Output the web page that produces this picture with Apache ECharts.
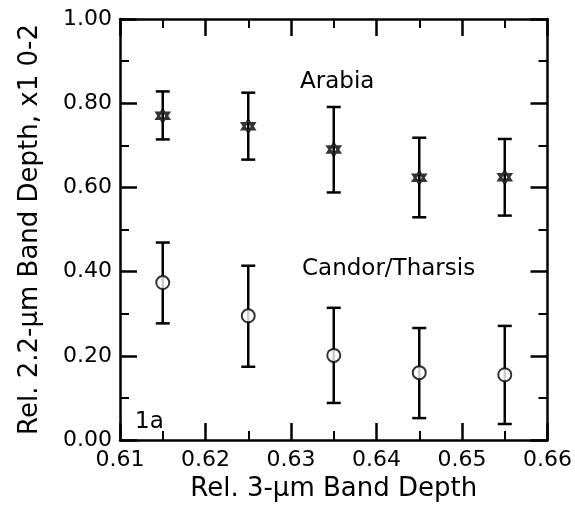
<!DOCTYPE html>
<html>
<head>
<meta charset="utf-8">
<script src="https://cdn.jsdelivr.net/npm/echarts@6/dist/echarts.min.js"></script>
<style>html,body{margin:0;padding:0;background:#fff}#c{width:575px;height:520px}</style>
</head>
<body>
<div id="c"></div>
<script>
const xVals = [0.615, 0.625, 0.635, 0.645, 0.655];
const arabiaMean = [0.770, 0.745, 0.690, 0.623, 0.624];
const arabiaLow  = [0.714, 0.666, 0.588, 0.529, 0.533];
const arabiaHigh = [0.828, 0.825, 0.791, 0.718, 0.715];
const candorMean = [0.374, 0.295, 0.201, 0.160, 0.155];
const candorLow  = [0.277, 0.174, 0.088, 0.052, 0.038];
const candorHigh = [0.469, 0.414, 0.314, 0.266, 0.271];
const xTickLabels = ['0.61','0.62','0.63','0.64','0.65','0.66'];
const yTickLabels = ['0.00','0.20','0.40','0.60','0.80','1.00'];
const xTitle = 'Rel. 3-µm Band Depth';
const yTitle = 'Rel. 2.2-µm Band Depth, x1 0-2';
const annotations = ['Arabia', 'Candor/Tharsis', '1a'];

const FONT = 'DejaVu Sans';
const chart = echarts.init(document.getElementById('c'), null, {renderer: 'canvas'});

function errData(lo, hi) { return xVals.map((x, i) => [x, lo[i], hi[i]]); }
function errRender(params, api) {
  const x = api.value(0);
  const lo = api.coord([x, api.value(1)]);
  const hi = api.coord([x, api.value(2)]);
  const w = 7;
  const st = {stroke: '#000', lineWidth: 2.5};
  return {type: 'group', children: [
    {type: 'line', shape: {x1: lo[0], y1: lo[1], x2: hi[0], y2: hi[1]}, style: st},
    {type: 'line', shape: {x1: lo[0]-w, y1: lo[1], x2: lo[0]+w, y2: lo[1]}, style: st},
    {type: 'line', shape: {x1: hi[0]-w, y1: hi[1], x2: hi[0]+w, y2: hi[1]}, style: st}
  ]};
}
const axisLine = {show: true, onZero: false, lineStyle: {color: '#000', width: 2.5}};
const xLab = v => { const s = v.toFixed(2); return xTickLabels.includes(s) ? s : ''; };
const yLab = v => { const s = v.toFixed(2); return yTickLabels.includes(s) ? s : ''; };
const star = 'path://M0,-10 L8.66,5 L-8.66,5 Z M0,10 L8.66,-5 L-8.66,-5 Z';

chart.setOption({
  animation: false,
  backgroundColor: '#fff',
  grid: {left: 120, right: 27, top: 19, bottom: 80, containLabel: false},
  xAxis: [
    {type: 'value', min: 0.61, max: 0.66, interval: 0.01, position: 'bottom',
     axisLine: axisLine, splitLine: {show: false},
     axisTick: {show: true, inside: true, length: 17, lineStyle: {color: '#000', width: 2.5}},
     minorTick: {show: true, splitNumber: 2, length: 9, lineStyle: {color: '#000', width: 2}},
     axisLabel: {formatter: xLab, color: '#000', fontFamily: FONT, fontSize: 22, margin: 9},
     name: xTitle, nameLocation: 'middle', nameGap: 30,
     nameTextStyle: {color: '#000', fontFamily: FONT, fontSize: 26}},
    {type: 'value', min: 0.61, max: 0.66, interval: 0.01, position: 'top',
     axisLine: axisLine, splitLine: {show: false},
     axisTick: {show: true, inside: true, length: 17, lineStyle: {color: '#000', width: 2.5}},
     minorTick: {show: true, splitNumber: 2, length: 9, lineStyle: {color: '#000', width: 2}},
     axisLabel: {show: false}}
  ],
  yAxis: [
    {type: 'value', min: 0, max: 1, interval: 0.2, position: 'left',
     axisLine: axisLine, splitLine: {show: false},
     axisTick: {show: true, inside: true, length: 17, lineStyle: {color: '#000', width: 2.5}},
     minorTick: {show: true, splitNumber: 2, length: 9, lineStyle: {color: '#000', width: 2}},
     axisLabel: {formatter: yLab, color: '#000', fontFamily: FONT, fontSize: 22, margin: 8},
     name: yTitle, nameLocation: 'middle', nameGap: 77, nameRotate: 90,
     nameTextStyle: {color: '#000', fontFamily: FONT, fontSize: 26}},
    {type: 'value', min: 0, max: 1, interval: 0.2, position: 'right',
     axisLine: axisLine, splitLine: {show: false},
     axisTick: {show: true, inside: true, length: 17, lineStyle: {color: '#000', width: 2.5}},
     minorTick: {show: true, splitNumber: 2, length: 9, lineStyle: {color: '#000', width: 2}},
     axisLabel: {show: false}}
  ],
  series: [
    {type: 'custom', name: 'Arabia err', renderItem: errRender, data: errData(arabiaLow, arabiaHigh), z: 2},
    {type: 'custom', name: 'Candor err', renderItem: errRender, data: errData(candorLow, candorHigh), z: 2},
    {type: 'scatter', name: 'Arabia', symbol: star, symbolSize: 12,
     itemStyle: {color: '#fff', borderColor: '#000', borderWidth: 2.5},
     data: xVals.map((x, i) => [x, arabiaMean[i]]), z: 3},
    {type: 'scatter', name: 'Candor/Tharsis', symbol: 'circle', symbolSize: 13,
     itemStyle: {color: '#fff', borderColor: '#000', borderWidth: 2},
     data: xVals.map((x, i) => [x, candorMean[i]]), z: 3}
  ],
  graphic: [
    {type: 'text', left: 300, top: 71, style: {text: annotations[0], font: '23px "DejaVu Sans"', fill: '#000'}},
    {type: 'text', left: 302, top: 258, style: {text: annotations[1], font: '23px "DejaVu Sans"', fill: '#000'}},
    {type: 'text', left: 135, top: 411, style: {text: annotations[2], font: '23px "DejaVu Sans"', fill: '#000'}}
  ]
});
</script>
</body>
</html>
